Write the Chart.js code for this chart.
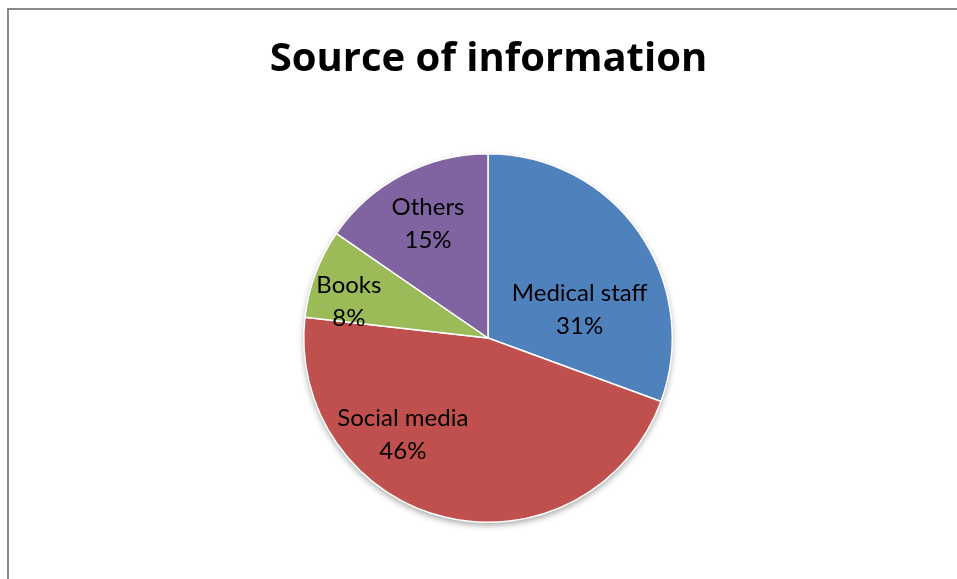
<!DOCTYPE html>
<html>
<head>
<meta charset="utf-8">
<script src="https://cdn.jsdelivr.net/npm/chart.js@4"></script>
<style>
    html, body { margin: 0; padding: 0; background: #fff; }
    #wrap { position: relative; width: 957px; height: 579px; overflow: hidden; }
    #frame { position: absolute; left: 7px; top: 8px; right: -4px; bottom: -4px;
             border-left: 2px solid #8a8a8a; border-top: 2px solid #8a8a8a; }
    canvas { position: absolute; left: 0; top: 0; }
</style>
</head>
<body>
<div id="wrap">
    <div id="frame"></div>
    <canvas id="pieChart" width="957" height="579"></canvas>
</div>
<script>
// Data (percent shares, clockwise from 12 o'clock)
const categories = ['Medical staff', 'Social media', 'Books', 'Others'];
const shares = [30.6, 46.2, 7.8, 15.4];
const percentLabels = ['31%', '46%', '8%', '15%'];
const chartTitle = 'Source of information';

// Office 2007 palette
const SLICE_COLORS = ['#4F81BD', '#C0504D', '#9BBB59', '#8064A2'];

// label placement inside each slice: angle shift (deg) from the slice middle, fraction of radius
const LABEL_SHIFT = [18, 28, -6, 0];
const LABEL_FRAC = [0.52, 0.70, 0.78, 0.70];

const FONT = 'Lato, "Open Sans", sans-serif';
const TITLE_FONT = '"Open Sans", Lato, sans-serif';

// title drawn by hand, centred over the pie
const pieTitle = {
    id: 'pieTitle',
    afterDraw(chart) {
        const ctx = chart.ctx;
        ctx.save();
        ctx.fillStyle = '#000';
        ctx.font = 'bold 40px ' + TITLE_FONT;
        ctx.textAlign = 'center';
        ctx.textBaseline = 'alphabetic';
        ctx.fillText(chartTitle, chart.width / 2 + 10, 71);
        ctx.restore();
    }
};

// soft shadow under the whole pie
const pieShadow = {
    id: 'pieShadow',
    beforeDatasetsDraw(chart) {
        const arc = chart.getDatasetMeta(0).data[0];
        if (!arc) return;
        const ctx = chart.ctx;
        ctx.save();
        ctx.shadowColor = 'rgba(0,0,0,0.35)';
        ctx.shadowBlur = 6;
        ctx.shadowOffsetY = 3;
        ctx.beginPath();
        ctx.arc(arc.x, arc.y, arc.outerRadius, 0, Math.PI * 2);
        ctx.fillStyle = '#fff';
        ctx.fill();
        ctx.restore();
    }
};

// category + percent written inside the slices
const sliceLabels = {
    id: 'sliceLabels',
    afterDatasetsDraw(chart) {
        const ctx = chart.ctx;
        const arcs = chart.getDatasetMeta(0).data;
        ctx.save();
        ctx.fillStyle = '#000';
        ctx.font = '24px ' + FONT;
        ctx.textAlign = 'center';
        ctx.textBaseline = 'middle';
        arcs.forEach((arc, i) => {
            const mid = (arc.startAngle + arc.endAngle) / 2 + LABEL_SHIFT[i] * Math.PI / 180;
            const r = arc.outerRadius * LABEL_FRAC[i];
            const x = arc.x + Math.cos(mid) * r;
            const y = arc.y + Math.sin(mid) * r;
            ctx.fillText(categories[i], x, y - 16.5);
            ctx.fillText(percentLabels[i], x, y + 16.5);
        });
        ctx.restore();
    }
};

const ctx = document.getElementById('pieChart').getContext('2d');
new Chart(ctx, {
    type: 'pie',
    data: {
        labels: categories,
        datasets: [{
            data: shares,
            backgroundColor: SLICE_COLORS,
            borderColor: '#ffffff',
            borderWidth: 1.5
        }]
    },
    options: {
        responsive: false,
        animation: false,
        layout: { padding: { left: 303, right: 284, top: 153, bottom: 56 } },
        plugins: {
            legend: { display: false },
            tooltip: { enabled: false },
            title: { display: false }
        }
    },
    plugins: [pieShadow, sliceLabels, pieTitle]
});
</script>
</body>
</html>
